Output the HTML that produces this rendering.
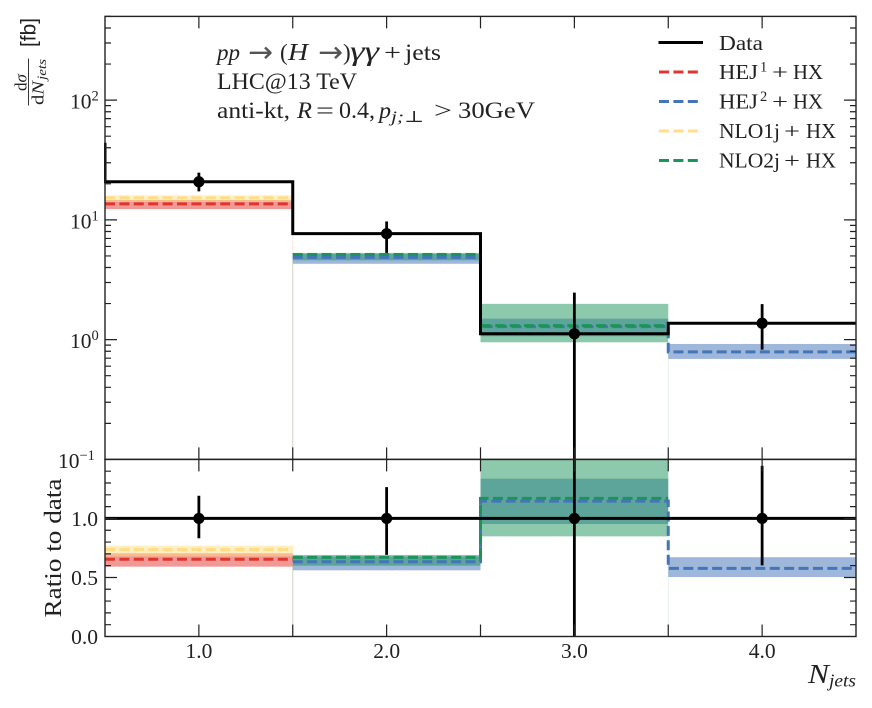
<!DOCTYPE html>
<html>
<head>
<meta charset="utf-8">
<title>Jet multiplicity chart</title>
<style>
  html, body { margin: 0; padding: 0; background: #fff; }
  svg { display: block; }
  text { font-family: "Liberation Serif", "DejaVu Serif", serif; fill: #222; }
  .it { font-style: italic; }
  .arrow { font-family: "DejaVu Sans", sans-serif; fill: #555; }
</style>
</head>
<body>
<svg id="chart" xmlns="http://www.w3.org/2000/svg" width="872" height="708" viewBox="0 0 872 708">
  <defs>
    <clipPath id="clip-main"><rect x="104" y="16.4" width="752" height="443"/></clipPath>
    <clipPath id="clip-ratio"><rect x="104" y="459.4" width="752" height="177.1"/></clipPath>
  </defs>
  <rect width="872" height="708" fill="#fff"/>
  <g id="main-marks" clip-path="url(#clip-main)"></g>
  <g id="ratio-marks" clip-path="url(#clip-ratio)"></g>
  <g id="ticks"></g>
  <g id="tick-labels"></g>
  <rect x="105" y="16.4" width="751" height="443" fill="none" stroke="#222" stroke-width="1.4"/>
  <rect x="105" y="459.4" width="751" height="177.1" fill="none" stroke="#222" stroke-width="1.4"/>

  <g>
    <text transform="translate(35.5 47) rotate(-90)" font-size="21" textLength="29" lengthAdjust="spacingAndGlyphs" style="font-family:'Liberation Sans',sans-serif">[fb]</text>
    <g transform="translate(0 82) rotate(-90)">
      <text x="-9" y="26.5" font-size="17">d<tspan class="it">σ</tspan></text>
      <line x1="-23.5" x2="23.5" y1="28.5" y2="28.5" stroke="#222" stroke-width="0.9"/>
      <text x="-23" y="43.5" font-size="17" textLength="24" lengthAdjust="spacingAndGlyphs">d<tspan class="it">N</tspan></text>
      <text class="it" x="2" y="46" font-size="13" textLength="21" lengthAdjust="spacingAndGlyphs">jets</text>
    </g>
  </g>
  <text transform="translate(61 617.5) rotate(-90)" font-size="24" textLength="139" lengthAdjust="spacingAndGlyphs">Ratio to data</text>
  <g>
    <text class="it" x="808" y="683" font-size="27" textLength="21" lengthAdjust="spacingAndGlyphs">N</text>
    <text class="it" x="829" y="686.5" font-size="18" textLength="27" lengthAdjust="spacingAndGlyphs">jets</text>
  </g>

  <g font-size="23">
    <g>
      <text class="it" x="217" y="60" textLength="23" lengthAdjust="spacingAndGlyphs">pp</text>
      <text class="arrow" x="248" y="62" font-size="29" textLength="25" lengthAdjust="spacingAndGlyphs">→</text>
      <text x="280" y="60">(</text>
      <text class="it" x="288" y="60" font-size="24" textLength="20" lengthAdjust="spacingAndGlyphs">H</text>
      <text class="arrow" x="318" y="62" font-size="29" textLength="25" lengthAdjust="spacingAndGlyphs">→</text>
      <text x="343" y="60">)</text>
      <text class="it" x="350" y="60" font-size="27" textLength="29" lengthAdjust="spacingAndGlyphs">γγ</text>
      <text x="384" y="60" textLength="17" lengthAdjust="spacingAndGlyphs">+</text>
      <text x="405" y="60" textLength="36" lengthAdjust="spacingAndGlyphs">jets</text>
    </g>
    <text x="217" y="89" textLength="140" lengthAdjust="spacingAndGlyphs">LHC@13 TeV</text>
    <g>
      <text x="217" y="118" textLength="73" lengthAdjust="spacingAndGlyphs">anti-kt,</text>
      <text class="it" x="297" y="118" textLength="15" lengthAdjust="spacingAndGlyphs">R</text>
      <text x="316" y="118" textLength="18" lengthAdjust="spacingAndGlyphs">=</text>
      <text x="339" y="118" textLength="36" lengthAdjust="spacingAndGlyphs">0.4,</text>
      <text class="it" x="379" y="118" textLength="12" lengthAdjust="spacingAndGlyphs">p</text>
      <text class="it" x="391" y="122" font-size="16" textLength="33" lengthAdjust="spacingAndGlyphs">j;⊥</text>
      <text x="434" y="118" textLength="18" lengthAdjust="spacingAndGlyphs">&gt;</text>
      <text x="458" y="118" textLength="77" lengthAdjust="spacingAndGlyphs">30GeV</text>
    </g>
  </g>

  <g font-size="21.5">
    <g>
      <line x1="658.5" x2="703" y1="42.5" y2="42.5" stroke="#000" stroke-width="3"/>
      <text x="719" y="50" textLength="44" lengthAdjust="spacingAndGlyphs">Data</text>
    </g>
    <g>
      <line x1="659" x2="699" y1="72" y2="72" stroke="#e0352d" stroke-width="3" stroke-dasharray="10 4.4"/>
      <text x="719" y="79" textLength="39" lengthAdjust="spacingAndGlyphs">HEJ</text>
      <text x="760" y="71.5" font-size="14.5">1</text>
      <text x="772" y="79" textLength="16" lengthAdjust="spacingAndGlyphs">+</text>
      <text x="793" y="79" textLength="30" lengthAdjust="spacingAndGlyphs">HX</text>
    </g>
    <g>
      <line x1="659" x2="699" y1="101.5" y2="101.5" stroke="#4375b9" stroke-width="3" stroke-dasharray="10 4.4"/>
      <text x="719" y="108.5" textLength="39" lengthAdjust="spacingAndGlyphs">HEJ</text>
      <text x="760" y="101" font-size="14.5">2</text>
      <text x="772" y="108.5" textLength="16" lengthAdjust="spacingAndGlyphs">+</text>
      <text x="793" y="108.5" textLength="30" lengthAdjust="spacingAndGlyphs">HX</text>
    </g>
    <g>
      <line x1="659" x2="699" y1="131" y2="131" stroke="#ffdf8c" stroke-width="3" stroke-dasharray="10 4.4"/>
      <text x="719" y="138" textLength="61" lengthAdjust="spacingAndGlyphs">NLO1j</text>
      <text x="784" y="138" textLength="16" lengthAdjust="spacingAndGlyphs">+</text>
      <text x="806" y="138" textLength="30" lengthAdjust="spacingAndGlyphs">HX</text>
    </g>
    <g>
      <line x1="659" x2="699" y1="160.5" y2="160.5" stroke="#1c9459" stroke-width="3" stroke-dasharray="10 4.4"/>
      <text x="719" y="167.5" textLength="61" lengthAdjust="spacingAndGlyphs">NLO2j</text>
      <text x="784" y="167.5" textLength="16" lengthAdjust="spacingAndGlyphs">+</text>
      <text x="806" y="167.5" textLength="30" lengthAdjust="spacingAndGlyphs">HX</text>
    </g>
  </g>
</svg>
<script>
// ---- chart data (fb per jet-multiplicity bin) ----
const binCenters = [1, 2, 3, 4];
const dataValues = [20.8, 7.67, 1.12, 1.37];
const dataHigh = [24.8, 9.7, 2.47, 1.98];
const dataLow = [17.3, 5.3, 0, 0.825];
const dataLeftEdgeValue = 44;

const hej1Central = [13.6, null, null, null];
const hej1Low = [12.3, null, null, null];
const hej1High = [14.66, null, null, null];

const hej2Central = [null, 4.86, 1.284, 0.79];
const hej2Low = [null, 4.3, 1.067, 0.69];
const hej2High = [null, 5.2, 1.497, 0.92];

const nlo1Central = [15.3, null, null, null];
const nlo1Low = [14.1, null, null, null];
const nlo1High = [16, null, null, null];

const nlo2Central = [null, 5.14, 1.31, null];
const nlo2Low = [null, 4.6, 0.95, null];
const nlo2High = [null, 5.3, 1.99, null];

const xMajorTicks = [1, 1.5, 2, 2.5, 3, 3.5, 4];
const xTickLabels = ['1.0', '2.0', '3.0', '4.0'];
const mainExponents = [2, 1, 0, -1];
const ratioTickLabels = ['0.0', '0.5', '1.0'];

// ---- axes ----
const svgNS = 'http://www.w3.org/2000/svg';
const X0 = 105, X1 = 856, MAIN_TOP = 16.4, MAIN_BOTTOM = 459.4, RATIO_BOTTOM = 636.5;
const xScale = v => X0 + (v - 0.5) / 4 * (X1 - X0);
const yMain = v => v <= 0 ? MAIN_BOTTOM + 50 :
  MAIN_BOTTOM - (Math.log10(v) + 1) / (Math.log10(500) + 1) * (MAIN_BOTTOM - MAIN_TOP);
const yRatio = v => RATIO_BOTTOM - v / 1.5 * (RATIO_BOTTOM - MAIN_BOTTOM);

function make(tag, attrs, parent) {
  const el = document.createElementNS(svgNS, tag);
  for (const k in attrs) el.setAttribute(k, attrs[k]);
  parent.appendChild(el);
  return el;
}

const seriesList = [
  { key: 'hej1', color: '#e0352d', central: hej1Central, low: hej1Low, high: hej1High },
  { key: 'hej2', color: '#4070b5', central: hej2Central, low: hej2Low, high: hej2High },
  { key: 'nlo1j', color: '#ffdd85', central: nlo1Central, low: nlo1Low, high: nlo1High },
  { key: 'nlo2j', color: '#1c9459', central: nlo2Central, low: nlo2Low, high: nlo2High }
];

function drawPanel(root, yFn, norm, bottom, panelName) {
  // bands and their faint edge lines
  seriesList.forEach(s => {
    s.central.forEach((c, i) => {
      if (c === null) return;
      const xa = xScale(binCenters[i] - 0.5), xb = xScale(binCenters[i] + 0.5);
      const yTop = yFn(norm(s.high[i], i)), yBot = yFn(norm(s.low[i], i));
      const band = make('rect', { x: xa, y: yTop, width: xb - xa, height: yBot - yTop, fill: s.color, 'fill-opacity': 0.5 }, root);
      
      
      const first = i === 0 || s.central[i - 1] === null;
      const last = i === s.central.length - 1 || s.central[i + 1] === null;
      [[first, xa], [last, xb]].forEach(pair => {
        if (!pair[0] || pair[1] <= X0 + 1 || pair[1] >= X1 - 1) return;
        const edge = make('line', { x1: pair[1], x2: pair[1], y1: yBot, y2: bottom, stroke: s.color, 'stroke-opacity': 0.1, 'stroke-width': 1 }, root);
        
        
      });
    });
  });
  // dashed central step lines
  seriesList.forEach(s => {
    let d = '';
    s.central.forEach((c, i) => {
      if (c === null) return;
      const y = yFn(norm(c, i));
      const xa = xScale(binCenters[i] - 0.5), xb = xScale(binCenters[i] + 0.5);
      d += (i === 0 || s.central[i - 1] === null ? 'M' + xa + ' ' + y : 'L' + xa + ' ' + y) + 'L' + xb + ' ' + y;
    });
    const line = make('path', { d: d, fill: 'none', stroke: s.color === '#4070b5' ? '#4375b9' : s.color, 'stroke-width': 3, 'stroke-dasharray': '10 4.4' }, root);
    
    
  });
}

const mainRoot = document.getElementById('main-marks');
const ratioRoot = document.getElementById('ratio-marks');
drawPanel(mainRoot, yMain, v => v, MAIN_BOTTOM, 'main');
drawPanel(ratioRoot, yRatio, (v, i) => v / dataValues[i], RATIO_BOTTOM, 'ratio');

// data step line, main panel
let dataPath = 'M' + xScale(0.5) + ' ' + yMain(dataLeftEdgeValue);
dataValues.forEach((v, i) => {
  dataPath += 'L' + xScale(binCenters[i] - 0.5) + ' ' + yMain(v) + 'L' + xScale(binCenters[i] + 0.5) + ' ' + yMain(v);
});
const dataStep = make('path', { d: dataPath, fill: 'none', stroke: '#000', 'stroke-width': 3 }, mainRoot);



// data line, ratio panel
let ratioPath = '';
dataValues.forEach((v, i) => {
  const r = yRatio(v / dataValues[i]);
  ratioPath += (i === 0 ? 'M' : 'L') + xScale(binCenters[i] - 0.5) + ' ' + r + 'L' + xScale(binCenters[i] + 0.5) + ' ' + r;
});
const ratioStep = make('path', { d: ratioPath, fill: 'none', stroke: '#000', 'stroke-width': 3 }, ratioRoot);



// error bars and points
dataValues.forEach((v, i) => {
  const x = xScale(binCenters[i]);
  const e1 = make('line', { x1: x, x2: x, y1: yMain(dataHigh[i]), y2: yMain(dataLow[i]), stroke: '#000', 'stroke-width': 2.8 }, mainRoot);
  
  
  const p1 = make('circle', { cx: x, cy: yMain(v), r: 5.6, fill: '#000' }, mainRoot);
  
  
  const e2 = make('line', { x1: x, x2: x, y1: yRatio(dataHigh[i] / v), y2: yRatio(dataLow[i] / v), stroke: '#000', 'stroke-width': 2.8 }, ratioRoot);
  
  
  const p2 = make('circle', { cx: x, cy: yRatio(1), r: 5.6, fill: '#000' }, ratioRoot);
  
  
});

// ticks
const tickRoot = document.getElementById('ticks');
let tickPath = '';
const MAJOR = 12, MINOR = 6;
xMajorTicks.forEach(t => {
  const x = xScale(t);
  tickPath += 'M' + x + ' ' + MAIN_TOP + 'v' + MAJOR;
  tickPath += 'M' + x + ' ' + MAIN_BOTTOM + 'v' + (-MAJOR);
  tickPath += 'M' + x + ' ' + MAIN_BOTTOM + 'v' + MAJOR;
  tickPath += 'M' + x + ' ' + RATIO_BOTTOM + 'v' + (-MAJOR);
});
for (let e = -1; e <= 2; e++) {
  for (let m = 1; m <= 9; m++) {
    const val = m * Math.pow(10, e);
    if (val > 500 || val <= 0.1) continue;
    const y = yMain(val), len = m === 1 ? MAJOR : MINOR;
    tickPath += 'M' + X0 + ' ' + y + 'h' + len + 'M' + X1 + ' ' + y + 'h' + (-len);
  }
}
for (let k = 1; k < 15; k++) {
  const y = yRatio(k / 10), len = k % 5 === 0 ? MAJOR : MINOR;
  tickPath += 'M' + X0 + ' ' + y + 'h' + len + 'M' + X1 + ' ' + y + 'h' + (-len);
}
const ticks = make('path', { d: tickPath, fill: 'none', stroke: '#222', 'stroke-width': 1.2 }, tickRoot);



// tick labels
const labelRoot = document.getElementById('tick-labels');
xTickLabels.forEach((txt, i) => {
  const t = make('text', { x: xScale(binCenters[i]), y: 658, 'font-size': 21.5, 'text-anchor': 'middle' }, labelRoot);
  t.textContent = txt;
  
  
});
ratioTickLabels.forEach((txt, i) => {
  const t = make('text', { x: 98, y: yRatio(parseFloat(txt)) + 7.5, 'font-size': 21.5, 'text-anchor': 'end' }, labelRoot);
  t.textContent = txt;
  
  
});
mainExponents.forEach(exp => {
  const y = yMain(Math.pow(10, exp)) + 8.5;
  const expStr = exp < 0 ? '−' + Math.abs(exp) : String(exp);
  const base = make('text', { x: exp < 0 ? 58 : 70, y: y, 'font-size': 21.5 }, labelRoot);
  base.textContent = '10';
  
  
  const sup = make('text', { x: exp < 0 ? 79.5 : 91.5, y: y - 8, 'font-size': 14.5 }, labelRoot);
  sup.textContent = expStr;
  
  
});
</script>
</body>
</html>
